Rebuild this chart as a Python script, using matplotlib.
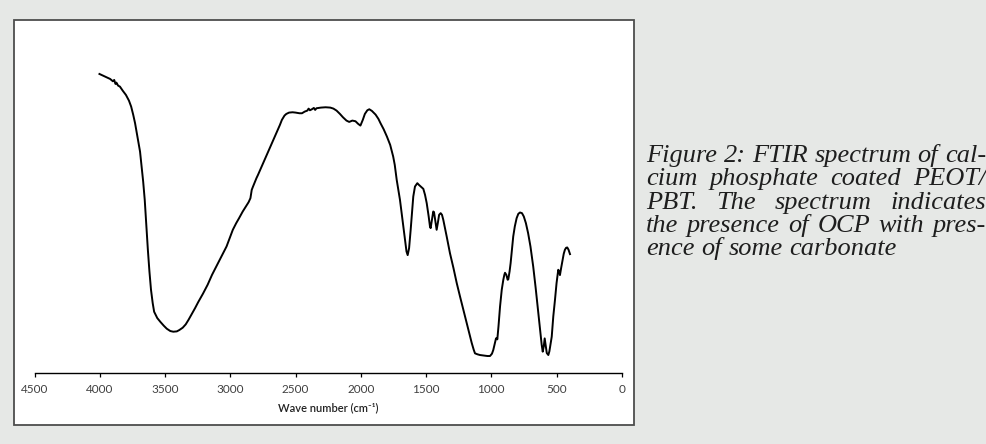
import matplotlib
matplotlib.use("Agg")
import matplotlib.pyplot as plt
from matplotlib.patches import Rectangle

# ---------------- data ----------------
wavenumber = [4003, 3960, 3921, 3900, 3890, 3880, 3873, 3860, 3846, 3825, 3800, 3777, 3760, 3744,
              3730, 3714, 3700, 3692, 3680, 3668, 3656, 3645, 3632, 3620, 3608, 3595, 3584, 3560,
              3535, 3510, 3487, 3460, 3437, 3410, 3391, 3365, 3342, 3320, 3294, 3270, 3246, 3210,
              3174, 3140, 3101, 3065, 3029, 3000, 2981, 2955, 2933, 2905, 2884, 2860, 2846, 2836,
              2826, 2800, 2788, 2760, 2740, 2715, 2692, 2665, 2644, 2620, 2605, 2585, 2571, 2550,
              2523, 2500, 2470, 2451, 2430, 2410, 2400, 2390, 2375, 2360, 2350, 2340, 2306, 2270,
              2234, 2210, 2186, 2160, 2137, 2110, 2089, 2065, 2041, 2020, 2003, 1985, 1969, 1950,
              1935, 1915, 1887, 1865, 1849, 1825, 1800, 1775, 1752, 1740, 1725, 1700, 1674, 1660,
              1650, 1641, 1630, 1618, 1608, 1598, 1585, 1567, 1555, 1541, 1521, 1508, 1495, 1480,
              1470, 1465, 1455, 1445, 1439, 1430, 1419, 1410, 1400, 1388, 1378, 1368, 1342, 1317,
              1290, 1265, 1240, 1214, 1195, 1176, 1150, 1135, 1125, 1105, 1087, 1050, 1030, 1010,
              995, 985, 975, 964, 958, 954, 945, 933, 920, 908, 900, 895, 885, 875, 870, 860, 852,
              842, 832, 820, 806, 793, 780, 765, 751, 735, 718, 700, 679, 660, 640, 625, 614, 606,
              598, 591, 584, 575, 563, 555, 545, 537, 525, 512, 500, 487, 480, 474, 465, 453, 445,
              436, 427, 418, 408, 397]
transmittance = [89.8, 89.0, 88.3, 87.6, 88.0, 86.8, 87.2, 86.3, 86.0, 84.8, 83.5, 81.8, 80.0, 77.5,
                 75.0, 71.5, 68.5, 66.5, 62.0, 57.5, 52.0, 45.0, 37.0, 30.5, 25.0, 21.0, 18.4, 16.5,
                 15.3, 14.2, 13.3, 12.6, 12.4, 12.5, 12.9, 13.6, 14.6, 16.0, 17.8, 19.5, 21.3, 23.8,
                 26.5, 29.5, 32.5, 35.2, 38.0, 41.0, 43.0, 45.0, 46.5, 48.5, 49.8, 51.3, 52.5, 55.0,
                 56.0, 58.5, 59.5, 62.0, 63.8, 66.0, 68.0, 70.5, 72.3, 74.5, 76.0, 77.3, 77.8, 78.2,
                 78.3, 78.2, 78.0, 78.0, 78.5, 78.8, 79.4, 78.9, 79.2, 79.6, 79.0, 79.5, 79.7, 79.8,
                 79.7, 79.4, 78.8, 77.8, 76.8, 75.8, 75.4, 75.8, 75.6, 74.8, 74.3, 76.0, 77.8, 78.9,
                 79.2, 78.7, 77.6, 76.3, 75.0, 73.2, 71.0, 68.5, 65.0, 62.5, 58.0, 52.0, 44.0, 39.5,
                 36.5, 35.4, 37.5, 43.0, 48.0, 53.0, 56.0, 57.0, 56.5, 56.0, 55.3, 53.5, 51.0, 47.0,
                 44.0, 43.5, 46.0, 48.5, 48.3, 46.0, 43.0, 45.0, 47.5, 48.0, 47.5, 46.0, 41.0, 36.0,
                 31.5, 27.0, 23.0, 19.0, 16.0, 13.0, 9.0, 7.0, 5.9, 5.6, 5.4, 5.2, 5.1, 5.1,
                 5.8, 6.9, 8.5, 10.4, 10.5, 10.1, 14.0, 20.0, 25.0, 28.0, 29.5, 30.1, 29.5, 28.0, 28.1, 30.5, 33.0,
                 37.0, 41.0, 44.0, 46.5, 47.8, 48.2, 48.0, 47.0, 45.0, 42.0, 38.0, 32.0, 25.5, 18.0, 12.5, 8.5, 6.4,
                 8.0, 10.4, 8.5, 6.0, 5.4, 6.5, 9.0, 10.9, 17.0, 22.0, 27.0, 31.0, 30.5, 29.4, 31.5, 34.0, 35.8,
                 37.0, 37.6, 37.7, 37.0, 35.7]
x_ticks = [4500, 4000, 3500, 3000, 2500, 2000, 1500, 1000, 500, 0]
x_label = "Wave number (cm⁻¹)"
caption_lines = ["Figure 2: FTIR spectrum of cal-",
                 "cium phosphate coated PEOT/",
                 "PBT. The spectrum indicates",
                 "the presence of OCP with pres-",
                 "ence of some carbonate"]
caption_justify = [True, True, True, True, False]

# ---------------- figure ----------------
W, H = 987, 444
fig = plt.figure(figsize=(W / 100, H / 100), dpi=100, facecolor="#e6e8e6")

def fx(px):
    return px / W

def fy(py):
    return 1 - py / H

# white framed panel (drawn beneath the axes)
panel = Rectangle((fx(14.5), fy(425)), fx(634) - fx(14.5), fy(19.5) - fy(425),
                  transform=fig.transFigure, facecolor="white",
                  edgecolor="#4d4d4d", linewidth=1.3, zorder=-10)
fig.add_artist(panel)

ax = fig.add_axes([fx(34.6), fy(373), fx(621.8) - fx(34.6), fy(40) - fy(373)])
ax.set_zorder(5)
ax.patch.set_visible(False)
ax.plot(wavenumber, transmittance, color="black", linewidth=1.4, solid_joinstyle="round")
ax.set_xlim(4500, 0)
ax.set_ylim(0, 100)
for s in ("left", "right", "top"):
    ax.spines[s].set_visible(False)
ax.spines["bottom"].set_color("black")
ax.spines["bottom"].set_linewidth(1.0)
ax.set_yticks([])
ax.set_xticks(x_ticks)
ax.set_xticklabels([str(t) for t in x_ticks])
ax.tick_params(axis="x", direction="out", length=3, width=0.9, pad=5,
               labelsize=8.5, labelcolor="#404040")
for lab in ax.get_xticklabels():
    lab.set_family(["Lato", "DejaVu Sans"])
ax.set_xlabel(x_label, fontsize=8, family=["Lato", "DejaVu Sans"], fontweight="semibold",
              color="#222222", labelpad=5)

# ---------------- caption (justified, word by word) ----------------
renderer = fig.canvas.get_renderer()
cap_font = dict(family=["Liberation Serif", "DejaVu Serif"], style="italic",
                fontsize=19, color="#1e1e1e")
x_left, x_right = 646, 986
baselines = [162, 185, 209, 232, 255]

def text_width(s):
    t = fig.text(0, 0, s, **cap_font)
    w = t.get_window_extent(renderer).width
    t.remove()
    return w

space_w = text_width("a a") - text_width("aa")
for line, just, base in zip(caption_lines, caption_justify, baselines):
    words = line.split(" ")
    widths = [text_width(w) for w in words]
    if just and len(words) > 1:
        gap = (x_right - x_left - sum(widths)) / (len(words) - 1)
    else:
        gap = space_w
    x = x_left
    for w, wd in zip(words, widths):
        fig.text(fx(x), fy(base), w, va="baseline", ha="left", zorder=6, **cap_font)
        x += wd + gap

fig.savefig("out.png", dpi=100, facecolor=fig.get_facecolor())
